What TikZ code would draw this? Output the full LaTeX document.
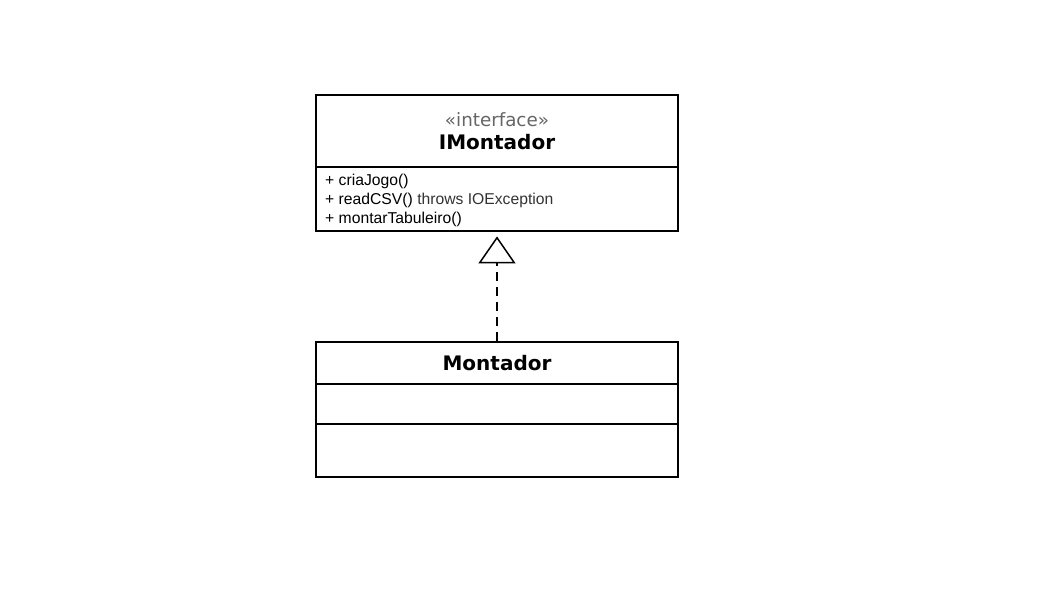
\documentclass[tikz,border=0pt]{standalone}
\usepackage{fontspec}
\setmainfont{DejaVu Sans}
\newfontfamily\methfont{Liberation Sans}
\usetikzlibrary{arrows.meta}
\definecolor{stereo}{HTML}{666666}
\definecolor{meth}{HTML}{333333}
\tikzset{
  classbox/.style={draw=black, line width=2.8pt, fill=white, rectangle, inner sep=0pt, minimum width=362pt},
  divider/.style={line width=2.8pt},
  stereotxt/.style={font=\fontsize{18.3}{21}\selectfont, text=stereo, inner sep=0pt},
  nametxt/.style={font=\fontsize{20}{23}\selectfont\bfseries, inner sep=0pt},
  methtxt/.style={font=\methfont\fontsize{15.7}{19}\selectfont, anchor=west, inner sep=0pt},
  realize/.style={line width=2pt, dash pattern=on 9pt off 6pt, -{Triangle[open, length=27pt, width=37pt, line width=1.5pt]}}
}
\begin{document}
\begin{tikzpicture}[x=1pt, y=-1pt]
\useasboundingbox (0,0) rectangle (1058,595);
\fill[white] (0,0) rectangle (1058,595);
% interface box
\node[classbox, minimum height=136pt] (imont) at (497,163) {};
\draw[divider] (316,167) -- (678,167);
\node[stereotxt] (st) at (497,120) {«interface»};
\node[nametxt] (iname) at (497,142) {IMontador};
\node[methtxt] (m1) at (325,181) {+ criaJogo()};
\node[methtxt] (m2) at (325,200) {+ readCSV() \textcolor{meth}{throws IOException}};
\node[methtxt] (m3) at (325,219) {+ montarTabuleiro()};
% class box
\node[classbox, minimum height=135pt] (mont) at (497,409.5) {};
\draw[divider] (316,384) -- (678,384);
\draw[divider] (316,424) -- (678,424);
\node[nametxt] (mname) at (497,363) {Montador};
% realization
\coordinate (tip) at ([yshift=-4pt]imont.south);
\draw[realize] (mont.north) -- (tip);
\end{tikzpicture}
\end{document}
